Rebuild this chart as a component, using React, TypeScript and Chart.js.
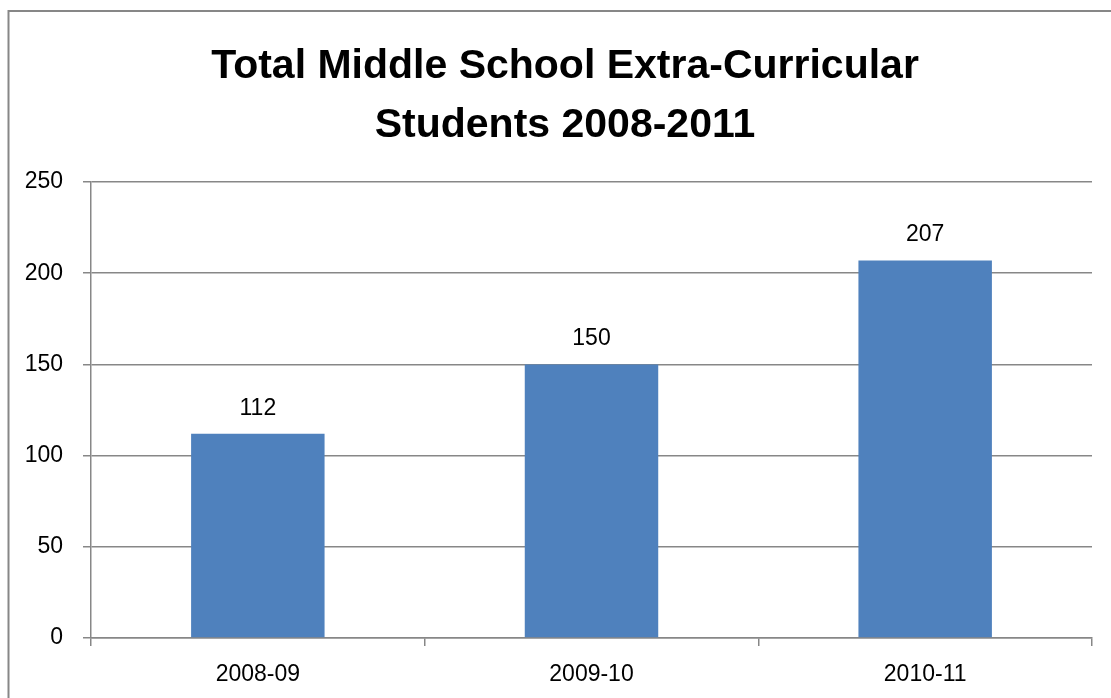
import React, { useEffect, useRef } from 'react';
import { Chart, registerables } from 'chart.js';

Chart.register(...registerables);

const categories = ['2008-09', '2009-10', '2010-11'];
const students = [112, 150, 207];
const titleLines = ['Total Middle School Extra-Curricular', 'Students 2008-2011'];
const yMin = 0;
const yMax = 250;
const yStep = 50;

const FONT = "'Liberation Sans', Arial, sans-serif";
const GRID = '#878787';

const valueLabels = {
  id: 'valueLabels',
  afterDatasetsDraw(chart: any) {
    const ctx = chart.ctx;
    const meta = chart.getDatasetMeta(0);
    const data = chart.data.datasets[0].data;
    ctx.save();
    ctx.font = `23px ${FONT}`;
    ctx.fillStyle = '#000';
    ctx.textAlign = 'center';
    ctx.textBaseline = 'alphabetic';
    meta.data.forEach((el: any, i: number) => {
      ctx.fillText(String(data[i]), el.x, el.y - 19);
    });
    ctx.restore();
  },
};

const frame = {
  id: 'frame',
  afterLayout(chart: any) {
    const t = chart.titleBlock;
    if (t) t.left = 38;
  },
  beforeDraw(chart: any) {
    const ctx = chart.ctx;
    ctx.save();
    ctx.fillStyle = '#fff';
    ctx.fillRect(0, 0, chart.width, chart.height);
    ctx.strokeStyle = GRID;
    ctx.lineWidth = 2;
    ctx.strokeRect(8.5, 11, chart.width + 20, chart.height + 20);
    ctx.restore();
  },
};

export default function App() {
  const ref = useRef<HTMLCanvasElement | null>(null);

  useEffect(() => {
    if (!ref.current) return;
    const chart = new Chart(ref.current, {
      type: 'bar',
      data: {
        labels: categories,
        datasets: [
          {
            data: students,
            backgroundColor: '#4F81BD',
            borderWidth: 0,
            barPercentage: 0.4,
            categoryPercentage: 1,
          },
        ],
      },
      options: {
        animation: false,
        responsive: true,
        maintainAspectRatio: false,
        layout: { padding: { left: 0, right: 19, top: 0, bottom: 0 } },
        plugins: {
          legend: { display: false },
          tooltip: { enabled: false },
          title: {
            display: true,
            text: titleLines,
            color: '#000',
            font: { family: FONT, size: 41, weight: 'bold', lineHeight: 59 / 41 },
            padding: { top: 37, bottom: 27 },
          },
        },
        scales: {
          x: {
            grid: {
              display: true,
              drawOnChartArea: false,
              drawTicks: true,
              tickLength: 8,
              color: GRID,
              lineWidth: 1.5,
              offset: true,
            },
            border: { display: true, color: GRID, width: 1.5 },
            ticks: {
              color: '#000',
              font: { family: FONT, size: 23 },
              padding: 15,
              maxRotation: 0,
            },
            afterFit(scale: any) {
              scale.height = 60;
            },
          },
          y: {
            min: yMin,
            max: yMax,
            grid: {
              color: GRID,
              lineWidth: 1.5,
              drawTicks: true,
              tickLength: 8,
            },
            border: { display: true, color: GRID, width: 1.5 },
            ticks: {
              stepSize: yStep,
              color: '#000',
              font: { family: FONT, size: 23 },
              padding: 20,
            },
            afterFit(scale: any) {
              scale.width = 91;
            },
          },
        },
      },
      plugins: [frame, valueLabels],
    });
    return () => chart.destroy();
  }, []);

  return (
    <div style={{ position: 'absolute', left: 0, top: 0, width: 1111, height: 698 }}>
      <canvas ref={ref} />
    </div>
  );
}
